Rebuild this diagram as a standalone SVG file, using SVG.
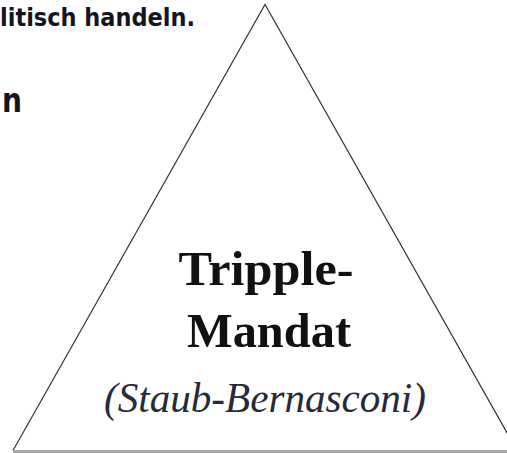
<svg xmlns="http://www.w3.org/2000/svg" width="507" height="453" viewBox="0 0 507 453">
  <style>
    .sans { font-family: "DejaVu Sans", Verdana, sans-serif; font-weight: bold; fill: #141420; }
    .serifb { font-family: "Liberation Serif", "Times New Roman", serif; font-weight: bold; fill: #111; text-anchor: middle; }
    .serifi { font-family: "Liberation Serif", "Times New Roman", serif; font-style: italic; fill: #262a3a; text-anchor: middle; }
  </style>
  <rect width="507" height="453" fill="#ffffff"/>
  <g id="background-text">
    <text class="sans" x="0" y="26" font-size="24" textLength="195" lengthAdjust="spacingAndGlyphs">litisch handeln.</text>
    <text class="sans" x="2" y="112" font-size="34" textLength="20" lengthAdjust="spacingAndGlyphs">n</text>
  </g>
  <g id="triangle">
    <polyline points="13,450.5 265,4.5 517,450.5" fill="none" stroke="#333" stroke-width="1.2"/>
    <line x1="13" y1="451.5" x2="507" y2="451.5" stroke="#a8a8a8" stroke-width="3"/>
  </g>
  <g id="label">
    <text class="serifb" x="266" y="285" font-size="48" textLength="175" lengthAdjust="spacingAndGlyphs">Tripple-</text>
    <text class="serifb" x="269" y="347" font-size="48" textLength="164" lengthAdjust="spacingAndGlyphs">Mandat</text>
    <text class="serifi" x="265" y="412" font-size="42" textLength="322" lengthAdjust="spacingAndGlyphs">(Staub-Bernasconi)</text>
  </g>
</svg>
